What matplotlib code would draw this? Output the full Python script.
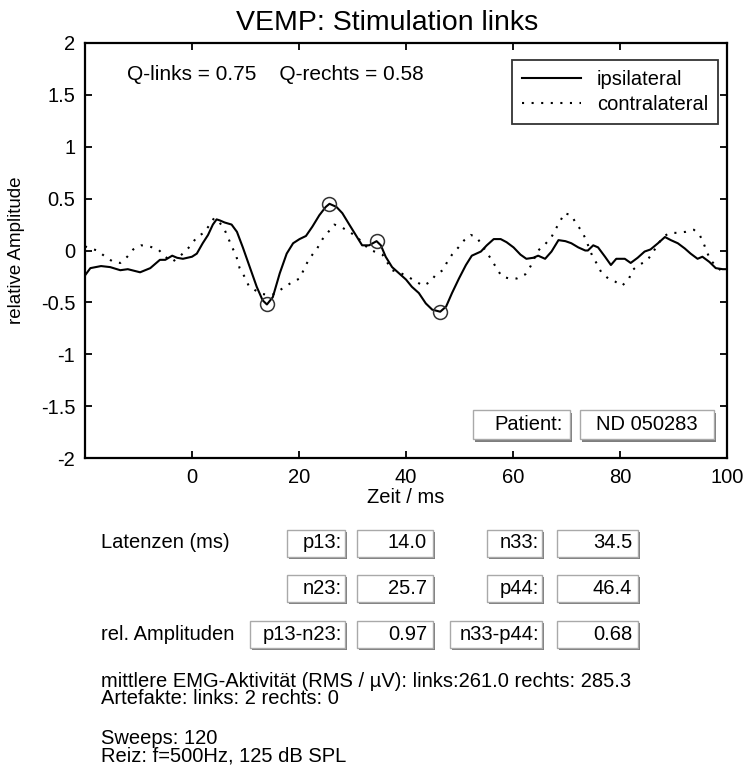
import numpy as np
import matplotlib
matplotlib.use("Agg")
import matplotlib.pyplot as plt
from matplotlib.patches import Rectangle

# ---- averaged VEMP responses (time in ms, relative amplitude) ----
ipsi_t = [-20, -19, -17, -15.3, -13.4, -12, -9.7, -7.8, -6, -5, -3.7, -2.8, -1.7, 0,
          0.9, 2.0, 3.0, 3.9, 4.6, 5.2, 6.1, 7.4, 8.4, 9.5, 10.8, 12.1, 13.2, 14.0,
          15.1, 16.4, 17.7, 18.9, 20.1, 21.3, 22.5, 23.8, 25.0, 25.7, 27.0, 28.1,
          29.4, 30.6, 31.8, 33.1, 34.5, 35.3, 36.2, 37.4, 38.7, 40.0, 41.1, 42.4,
          43.7, 44.9, 46.4, 47.5, 48.6, 49.9, 51.2, 52.3, 54.0, 55.1, 56.4, 57.7,
          58.8, 60.1, 61.4, 62.5, 63.8, 64.7, 66.0, 67.2, 68.5, 69.8, 70.9, 72.2,
          73.5, 74.0, 75.0, 75.9, 77.2, 78.3, 79.3, 80.9, 82.0, 83.3, 84.6, 85.7,
          87.1, 88.4, 89.5, 90.8, 92.1, 93.2, 94.5, 95.4, 96.7, 97.9, 99.2, 100]
ipsi_v = [-0.24, -0.17, -0.15, -0.16, -0.19, -0.18, -0.21, -0.17, -0.09, -0.09, -0.05,
          -0.07, -0.08, -0.06, -0.03, 0.07, 0.15, 0.25, 0.30, 0.29, 0.27, 0.25, 0.18,
          0.03, -0.16, -0.35, -0.48, -0.52, -0.45, -0.22, -0.03, 0.07, 0.11, 0.14,
          0.23, 0.34, 0.42, 0.45, 0.42, 0.36, 0.25, 0.15, 0.05, 0.05, 0.09, 0.05,
          -0.06, -0.16, -0.22, -0.28, -0.35, -0.41, -0.51, -0.57, -0.59, -0.54,
          -0.41, -0.27, -0.14, -0.05, -0.01, 0.05, 0.11, 0.11, 0.08, 0.03, -0.04,
          -0.08, -0.07, -0.05, -0.08, -0.01, 0.10, 0.09, 0.07, 0.03, 0.00, 0.00,
          0.05, 0.03, -0.06, -0.14, -0.08, -0.08, -0.12, -0.07, -0.01, 0.01, 0.07,
          0.13, 0.10, 0.07, 0.02, -0.03, -0.08, -0.06, -0.11, -0.17, -0.18, -0.18]

contra_t = [-20, -19, -17.7, -16.2, -14.7, -13.4, -12.1, -11.0, -9.5, -8.0, -6.3, -5.0,
            -3.7, -2.6, -1.3, -0.2, 0.9, 2.2, 3.2, 4.1, 5.0, 6.0, 6.7, 7.4, 8.2, 8.9,
            9.9, 10.6, 11.7, 13.2, 14.9, 16.0, 17.3, 18.6, 20.1, 21.5, 22.5, 23.4,
            24.4, 25.5, 26.6, 28.1, 29.4, 30.6, 31.8, 33.1, 35.6, 37.4, 39.1, 40.6,
            41.9, 43.2, 44.6, 45.6, 46.9, 47.7, 48.6, 49.8, 50.9, 52.1, 53.2, 54.2,
            55.1, 56.0, 56.8, 57.9, 59.3, 60.7, 62.3, 63.3, 64.7, 66.0, 67.2, 67.9,
            68.8, 69.6, 70.9, 71.8, 72.8, 73.5, 74.8, 75.7, 76.5, 77.8, 79.1, 80.4,
            81.7, 82.3, 83.5, 85.0, 86.0, 87.1, 88.0, 89.3, 90.6, 92.3, 93.8, 94.9,
            95.7, 96.2, 96.9, 98.1, 99.3, 100]
contra_v = [0.04, 0.02, 0.00, -0.06, -0.11, -0.12, -0.06, 0.01, 0.05, 0.04, 0.01, -0.06,
            -0.11, -0.07, -0.01, 0.05, 0.13, 0.17, 0.24, 0.31, 0.28, 0.21, 0.13, 0.04,
            -0.04, -0.17, -0.26, -0.34, -0.38, -0.42, -0.43, -0.40, -0.35, -0.31,
            -0.27, -0.12, -0.04, 0.02, 0.11, 0.18, 0.25, 0.22, 0.18, 0.14, 0.08, 0.01,
            -0.04, -0.19, -0.22, -0.26, -0.30, -0.34, -0.30, -0.23, -0.19, -0.11,
            -0.04, 0.03, 0.10, 0.15, 0.13, 0.05, -0.02, -0.09, -0.16, -0.25, -0.27,
            -0.27, -0.23, -0.15, 0.00, 0.06, 0.13, 0.20, 0.28, 0.36, 0.34, 0.26, 0.19,
            0.12, -0.05, -0.13, -0.21, -0.27, -0.30, -0.34, -0.27, -0.19, -0.14, -0.10,
            -0.03, 0.06, 0.13, 0.17, 0.17, 0.18, 0.20, 0.15, 0.06, -0.01, -0.09, -0.16,
            -0.21, -0.22]

# ---- peak latencies and results ----
peak_names = ["p13", "n23", "n33", "p44"]
peak_lat = [14.0, 25.7, 34.5, 46.4]
amp_names = ["p13-n23", "n33-p44"]
amp_vals = [0.97, 0.68]
q_links, q_rechts = 0.75, 0.58
patient_id = "ND 050283"
emg_links, emg_rechts = 261.0, 285.3
art_links, art_rechts = 2, 0
sweeps = 120
stim_text = "Reiz: f=500Hz, 125 dB SPL"

xticks = [0, 20, 40, 60, 80, 100]
yticks = [-2, -1.5, -1, -0.5, 0, 0.5, 1, 1.5, 2]
ytick_labels = ["-2", "-1.5", "-1", "-0.5", "0", "0.5", "1", "1.5", "2"]

W, H = 745, 778
plt.rcParams['font.family'] = ['Liberation Sans', 'DejaVu Sans']
plt.rcParams['axes.unicode_minus'] = False
FS = 14.5

fig = plt.figure(figsize=(W / 100, H / 100), dpi=100)
fig.patch.set_facecolor('white')


def fx(px):
    return px / W


def fy(py):
    return 1 - py / H


ax = fig.add_axes([fx(85), fy(458), fx(727) - fx(85), fy(43) - fy(458)])
ax.plot(ipsi_t, ipsi_v, color='black', lw=1.5, label='ipsilateral')
ax.plot(contra_t, contra_v, color='black', lw=1.5, linestyle=(0, (1, 3.6)),
        label='contralateral')
peak_amp = np.interp(peak_lat, ipsi_t, ipsi_v)
ax.plot(peak_lat, peak_amp, linestyle='none', marker='o', markersize=10,
        markerfacecolor='none', markeredgecolor='#333333', markeredgewidth=1.1)

ax.set_xlim(-20, 100)
ax.set_ylim(-2, 2)
ax.set_xticks(xticks)
ax.set_yticks(yticks)
ax.set_yticklabels(ytick_labels)
ax.tick_params(direction='in', length=5, width=1.3, top=True, right=True,
               labelsize=FS, pad=7)
for s in ax.spines.values():
    s.set_linewidth(1.6)
ax.set_xlabel("Zeit / ms", fontsize=FS, labelpad=1)
ax.set_ylabel("relative Amplitude", fontsize=13.5, labelpad=11)

leg = ax.legend(loc='upper right', bbox_to_anchor=(0.986, 0.96), borderaxespad=0,
                fontsize=FS, frameon=True, fancybox=False, edgecolor='black',
                handlelength=2.9, handletextpad=0.8, borderpad=0.5,
                labelspacing=0.3)
leg.get_frame().set_linewidth(1.3)

ax.text(fx(127), fy(75), f"Q-links = {q_links:.2f}    Q-rechts = {q_rechts:.2f}",
        transform=fig.transFigure, fontsize=15, ha='left', va='center')

fig.text(fx(387), fy(23), "VEMP: Stimulation links", fontsize=20.5,
         ha='center', va='center')


def box(x0, x1, yc, text, h=27, align='right', pad=4):
    y0 = yc - h / 2
    shadow = Rectangle((fx(x0 + 2), fy(y0 + h + 2.5)), (x1 - x0) / W, h / H,
                       transform=fig.transFigure, facecolor='#7d7d7d',
                       edgecolor='none', zorder=5)
    face = Rectangle((fx(x0), fy(y0 + h)), (x1 - x0) / W, h / H,
                     transform=fig.transFigure, facecolor='white',
                     edgecolor='#a9a9a9', lw=1.0, zorder=6)
    fig.add_artist(shadow)
    fig.add_artist(face)
    if align == 'right':
        tx, ha = x1 - pad, 'right'
    else:
        tx, ha = (x0 + x1) / 2, 'center'
    fig.text(fx(tx), fy(yc), text, fontsize=FS, ha=ha, va='center', zorder=7)


# patient boxes inside the plot area
box(473, 570, 424.5, "Patient:", h=29, pad=7)
box(580, 714, 424.5, patient_id, h=29, align='center')

# latency / amplitude table
row_y = [543, 588, 634]
lab_x = [(287, 345), (487, 542)]
val_x = [(357, 433), (557, 638)]
fig.text(fx(101), fy(row_y[0]), "Latenzen (ms)", fontsize=FS, ha='left', va='center')
fig.text(fx(101), fy(row_y[2]), "rel. Amplituden", fontsize=FS, ha='left', va='center')
lat_layout = [(0, 0), (1, 0), (0, 1), (1, 1)]  # (row, column) for each peak
for name, lat, (r, c) in zip(peak_names, peak_lat, lat_layout):
    box(lab_x[c][0], lab_x[c][1], row_y[r], f"{name}:", pad=3)
    box(val_x[c][0], val_x[c][1], row_y[r], f"{lat:.1f}", pad=6)
amp_lab_x = [(250, 345), (450, 542)]
for c, (name, val) in enumerate(zip(amp_names, amp_vals)):
    box(amp_lab_x[c][0], amp_lab_x[c][1], row_y[2], f"{name}:", pad=3)
    box(val_x[c][0], val_x[c][1], row_y[2], f"{val:.2f}", pad=6)

# summary blocks
emg_block = (f"mittlere EMG-Aktivität (RMS / µV): links:{emg_links:.1f} rechts: {emg_rechts:.1f}\n"
             f"Artefakte: links: {art_links} rechts: {art_rechts}")
stim_block = f"Sweeps: {sweeps}\n{stim_text}"
fig.text(fx(101), fy(690), emg_block, fontsize=FS, ha='left', va='center',
         linespacing=0.88)
fig.text(fx(101), fy(747), stim_block, fontsize=FS, ha='left', va='center',
         linespacing=0.88)

fig.savefig("out.png", dpi=100, facecolor='white')
